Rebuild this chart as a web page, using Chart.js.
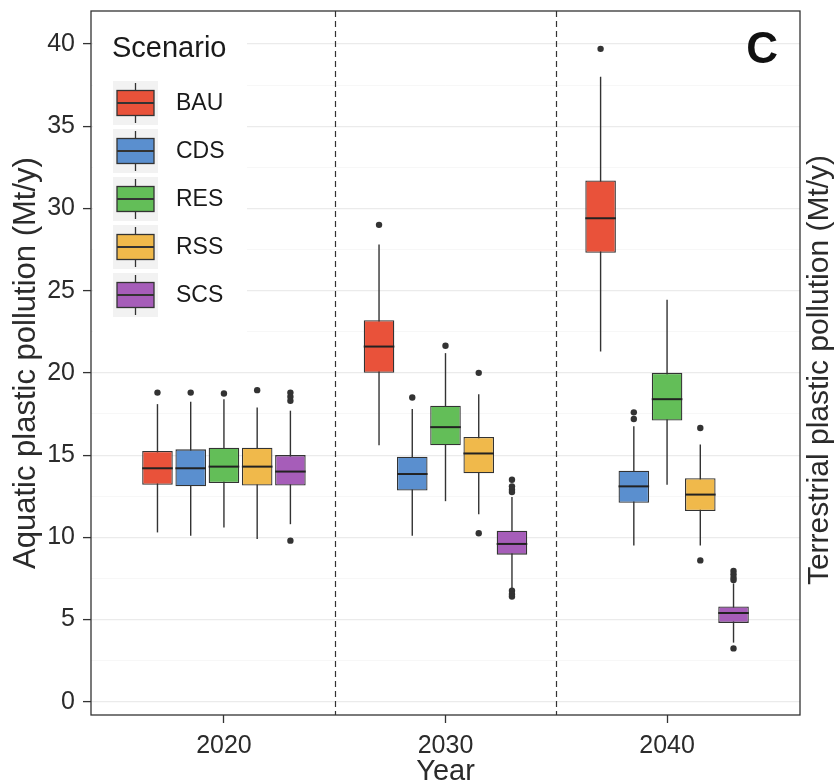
<!DOCTYPE html>
<html>
<head>
<meta charset="utf-8">
<script src="https://cdn.jsdelivr.net/npm/chart.js@4.4.1/dist/chart.umd.min.js"></script>
<style>
  html, body { margin: 0; padding: 0; background: #fff; }
</style>
</head>
<body>
<canvas id="boxChart" width="840" height="784"></canvas>
<script>
// categories
const years = ['2020', '2030', '2040'];
const yearPos = [1, 2, 3];
const scenarios = ['BAU', 'CDS', 'RES', 'RSS', 'SCS'];
const scenarioColors = ['#E9523A', '#5A8FCF', '#63BE58', '#F0B94B', '#A65DB9'];

// box stats, one row per scenario, one column per year
const whiskerLow = [
  [10.3, 15.6, 21.3],
  [10.1, 10.1, 9.5],
  [10.6, 12.2, 13.2],
  [9.9, 11.4, 9.5],
  [10.8, 6.9, 3.6]
];
const boxQ1 = [
  [13.2, 20.0, 27.3],
  [13.1, 12.85, 12.1],
  [13.3, 15.6, 17.1],
  [13.15, 13.9, 11.6],
  [13.15, 8.95, 4.8]
];
const boxMedian = [
  [14.2, 21.6, 29.4],
  [14.2, 13.85, 13.1],
  [14.3, 16.7, 18.4],
  [14.3, 15.1, 12.6],
  [14.0, 9.6, 5.4]
];
const boxQ3 = [
  [15.25, 23.2, 31.7],
  [15.35, 14.9, 14.05],
  [15.45, 18.0, 20.0],
  [15.45, 16.1, 13.6],
  [15.0, 10.4, 5.8]
];
const whiskerHigh = [
  [18.1, 27.8, 38.0],
  [18.25, 17.8, 16.75],
  [18.4, 21.2, 24.45],
  [17.9, 18.7, 15.65],
  [17.7, 12.45, 7.2]
];
const outliers = [
  [[18.8], [29.0], [39.7]],
  [[18.8], [18.5], [17.6, 17.2]],
  [[18.75], [21.65], []],
  [[18.95], [20.0, 10.25], [16.65, 8.6]],
  [[18.8, 18.55, 18.3, 9.8], [13.5, 13.1, 12.9, 12.75, 6.75, 6.55, 6.4], [7.95, 7.75, 7.55, 7.4, 3.25]]
];

// axis ticks
const yTicks = [0, 5, 10, 15, 20, 25, 30, 35, 40];
const dividers = [1.5, 2.5];

const FONT = "'Liberation Sans', Arial, sans-serif";
const INK = '#2b2b2b';

const yGridValues = [];
yTicks.forEach((v, i) => {
  yGridValues.push(v);
  if (i < yTicks.length - 1) yGridValues.push((v + yTicks[i + 1]) / 2);
});

const datasets = scenarios.map((name, i) => ({
  label: name,
  data: yearPos.map((x, j) => ({ x: x, y: [boxQ1[i][j], boxQ3[i][j]] })),
  backgroundColor: scenarioColors[i],
  borderColor: '#333',
  borderWidth: 1.3,
  borderSkipped: false,
  categoryPercentage: 0.75,
  barPercentage: 0.92
}));

function drawKey(ctx, cx, cy, color) {
  ctx.fillStyle = '#f2f2f2';
  ctx.fillRect(cx - 22.5, cy - 22, 45, 44);
  ctx.strokeStyle = '#333';
  ctx.lineWidth = 1.3;
  ctx.beginPath();
  ctx.moveTo(cx, cy - 20);
  ctx.lineTo(cx, cy + 20);
  ctx.stroke();
  ctx.fillStyle = color;
  ctx.fillRect(cx - 18.5, cy - 12.5, 37, 25);
  ctx.strokeRect(cx - 18.5, cy - 12.5, 37, 25);
  ctx.lineWidth = 2;
  ctx.beginPath();
  ctx.moveTo(cx - 18.5, cy);
  ctx.lineTo(cx + 18.5, cy);
  ctx.stroke();
}

const boxPlotParts = {
  id: 'boxPlotParts',
  beforeDatasetsDraw(chart) {
    const { ctx, chartArea, scales: { x, y } } = chart;
    ctx.save();
    // dashed year separators
    ctx.strokeStyle = '#333';
    ctx.lineWidth = 1.2;
    ctx.setLineDash([6, 4]);
    dividers.forEach(d => {
      const px = Math.round(x.getPixelForValue(d)) + 0.5;
      ctx.beginPath();
      ctx.moveTo(px, chartArea.top);
      ctx.lineTo(px, chartArea.bottom);
      ctx.stroke();
    });
    ctx.setLineDash([]);
    // whiskers
    ctx.lineWidth = 1.4;
    chart.data.datasets.forEach((ds, i) => {
      chart.getDatasetMeta(i).data.forEach((bar, j) => {
        ctx.beginPath();
        ctx.moveTo(bar.x, y.getPixelForValue(whiskerLow[i][j]));
        ctx.lineTo(bar.x, y.getPixelForValue(whiskerHigh[i][j]));
        ctx.stroke();
      });
    });
    ctx.restore();
  },
  afterDatasetsDraw(chart) {
    const { ctx, chartArea, scales: { y } } = chart;
    ctx.save();
    chart.data.datasets.forEach((ds, i) => {
      chart.getDatasetMeta(i).data.forEach((bar, j) => {
        const half = bar.width / 2;
        const my = y.getPixelForValue(boxMedian[i][j]);
        ctx.strokeStyle = '#222';
        ctx.lineWidth = 2;
        ctx.beginPath();
        ctx.moveTo(bar.x - half, my);
        ctx.lineTo(bar.x + half, my);
        ctx.stroke();
        ctx.fillStyle = '#333';
        outliers[i][j].forEach(v => {
          ctx.beginPath();
          ctx.arc(bar.x, y.getPixelForValue(v), 3.2, 0, Math.PI * 2);
          ctx.fill();
        });
      });
    });

    // legend inside the panel
    ctx.fillStyle = '#fff';
    ctx.fillRect(chartArea.left + 2, chartArea.top + 3, 154, 322);
    ctx.fillStyle = '#1a1a1a';
    ctx.textAlign = 'left';
    ctx.textBaseline = 'middle';
    ctx.font = '29px ' + FONT;
    ctx.fillText('Scenario', 112, 49);
    ctx.font = '23px ' + FONT;
    scenarios.forEach((name, i) => {
      const cy = 103 + 48 * i;
      drawKey(ctx, 135.5, cy, scenarioColors[i]);
      ctx.fillStyle = '#1a1a1a';
      ctx.fillText(name, 176, cy + 1);
    });
    ctx.restore();
  },
  afterDraw(chart) {
    const { ctx, chartArea } = chart;
    ctx.save();
    ctx.strokeStyle = '#333';
    ctx.lineWidth = 1.3;
    ctx.strokeRect(chartArea.left, chartArea.top, chartArea.right - chartArea.left, chartArea.bottom - chartArea.top);

    // panel letter
    ctx.fillStyle = '#111';
    ctx.font = "bold 44px 'Liberation Sans Narrow', 'Liberation Sans', sans-serif";
    ctx.textAlign = 'right';
    ctx.textBaseline = 'alphabetic';
    ctx.fillText('C', 778, 63);

    // neighbouring panel's axis title, cut by the edge
    ctx.translate(820, 370);
    ctx.rotate(-Math.PI / 2);
    ctx.font = '30px ' + FONT;
    ctx.fillStyle = INK;
    ctx.textAlign = 'center';
    ctx.textBaseline = 'middle';
    ctx.fillText('Terrestrial plastic pollution (Mt/y)', 0, 0);
    ctx.restore();
  }
};

new Chart(document.getElementById('boxChart'), {
  type: 'bar',
  data: { datasets },
  options: {
    responsive: false,
    animation: false,
    devicePixelRatio: 1,
    layout: { padding: { top: 11, right: 40, bottom: 0, left: 0 } },
    plugins: {
      legend: { display: false },
      tooltip: { enabled: false }
    },
    scales: {
      x: {
        type: 'linear',
        min: 0.4,
        max: 3.6,
        offset: false,
        afterBuildTicks: s => { s.ticks = yearPos.map(v => ({ value: v })); },
        afterFit: s => { s.height = 69; s.paddingLeft = 0; s.paddingRight = 0; },
        ticks: {
          autoSkip: false,
          maxRotation: 0,
          padding: 8,
          color: INK,
          font: { family: FONT, size: 25 },
          callback: v => years[yearPos.indexOf(v)] || ''
        },
        grid: { offset: false, drawOnChartArea: false, tickLength: 8, tickColor: '#333', tickWidth: 1.3 },
        border: { display: false },
        title: {
          display: true,
          text: 'Year',
          color: INK,
          font: { family: FONT, size: 29, lineHeight: 1 },
          padding: { top: 0, bottom: -2 }
        }
      },
      y: {
        min: -0.8,
        max: 42,
        afterBuildTicks: s => { s.ticks = yGridValues.map(v => ({ value: v })); },
        afterFit: s => { s.width = 91; s.paddingTop = 0; s.paddingBottom = 0; },
        ticks: {
          autoSkip: false,
          padding: 8,
          color: INK,
          font: { family: FONT, size: 25 },
          callback: v => yTicks.includes(v) ? String(v) : ''
        },
        grid: {
          color: c => (c.tick && c.tick.value % 5 === 0) ? '#ebebeb' : '#f3f3f3',
          lineWidth: c => (c.tick && c.tick.value % 5 === 0) ? 1.2 : 0.7,
          tickColor: c => (c.tick && c.tick.value % 5 === 0) ? '#333' : 'rgba(0,0,0,0)',
          tickLength: 8,
          tickWidth: 1.3
        },
        border: { display: false },
        title: {
          display: true,
          text: 'Aquatic plastic pollution (Mt/y)',
          color: INK,
          font: { family: FONT, size: 31 },
          padding: { top: 8, bottom: 0 }
        }
      }
    }
  },
  plugins: [boxPlotParts]
});
</script>
</body>
</html>
